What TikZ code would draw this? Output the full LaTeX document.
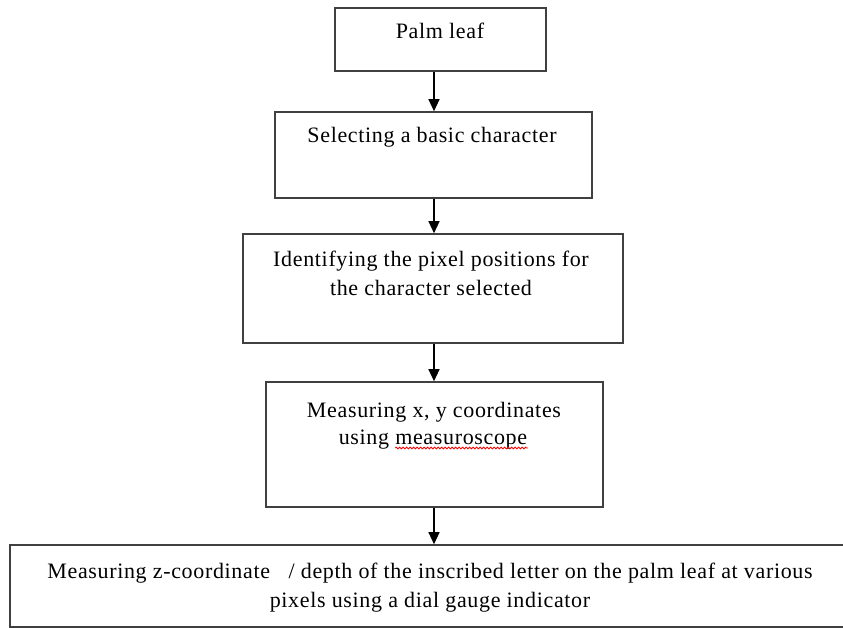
\documentclass[tikz,border=0pt]{standalone}
\usepackage{fontspec}
\setmainfont[LetterSpace=3]{Liberation Serif}
\usetikzlibrary{arrows.meta,decorations.pathmorphing}
\definecolor{boxline}{HTML}{404040}
\tikzset{
  box/.style={draw=boxline, line width=1.6pt, fill=white, inner sep=0pt},
  txt/.style={inner sep=0pt, font=\fontsize{22pt}{28pt}\selectfont, anchor=base},
  arr/.style={draw=black, line width=1.3pt, -{Triangle[width=11pt,length=12pt]}},
}
\begin{document}
\begin{tikzpicture}[x=1pt,y=-1pt]
\useasboundingbox (0,0) rectangle (843,628);
\clip (0,0) rectangle (843,628);
\fill[white] (0,0) rectangle (843,628);
% boxes
\node[box, minimum width=211pt, minimum height=63pt] (b1) at (440.5,39.5) {};
\node[box, minimum width=317pt, minimum height=86pt] (b2) at (433.5,155) {};
\node[box, minimum width=380pt, minimum height=109pt] (b3) at (433,288.5) {};
\node[box, minimum width=337pt, minimum height=125pt] (b4) at (434.5,444.5) {};
\node[box, minimum width=842pt, minimum height=82pt] (b5) at (431,586) {};
% texts
\node[txt] (t1) at (440,39) {Palm leaf};
\node[txt] (t2) at (432,143) {Selecting a basic character};
\node[txt] (t3a) at (431,267) {Identifying the pixel positions for};
\node[txt] (t3b) at (431,295) {the character selected};
\node[txt] (t4a) at (434,417) {Measuring x, y coordinates};
\node[txt] (t4b) at (433,444) {using measuroscope};
\node[txt] (t5a) at (430,578) {Measuring z-coordinate\ \ \ / depth of the inscribed letter on the palm leaf at various};
\node[txt] (t5b) at (430,607) {pixels using a dial gauge indicator};
% spell-check underline
\draw[red, line width=0.8pt, decorate, decoration={snake, amplitude=0.9pt, segment length=3.5pt}] (395,448) -- (528,448);
% arrows
\coordinate (ax) at (434,0);
\draw[arr] (ax |- b1.south) -- (ax |- b2.north);
\draw[arr] (ax |- b2.south) -- (ax |- b3.north);
\draw[arr] (ax |- b3.south) -- (ax |- b4.north);
\draw[arr] (ax |- b4.south) -- (ax |- b5.north);
\end{tikzpicture}
\end{document}
